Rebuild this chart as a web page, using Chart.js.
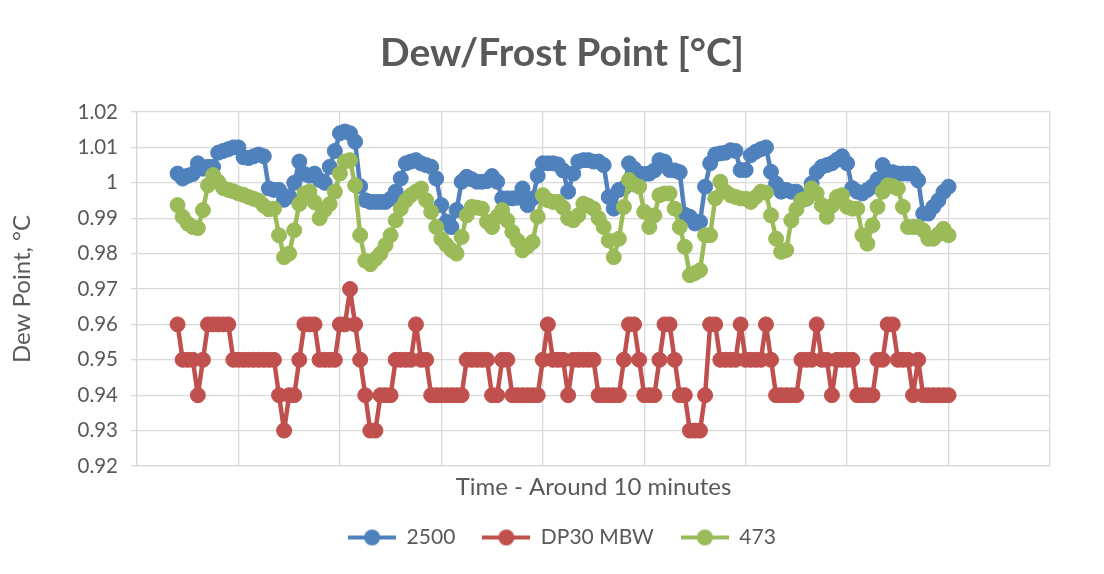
<!DOCTYPE html>
<html><head><meta charset="utf-8">
<script src="https://cdn.jsdelivr.net/npm/chart.js@4.4.1/dist/chart.umd.min.js"></script>
<style>html,body{margin:0;padding:0;background:#fff}#wrap{width:1104px;height:574px}</style>
</head><body><div id="wrap"><canvas id="c" width="1104" height="574"></canvas></div>
<script>
const chartTitle = 'Dew/Frost Point [°C]';
const xTitle = 'Time - Around 10 minutes';
const yTitle = 'Dew Point, °C';
const seriesNames = ['2500', 'DP30 MBW', '473'];
const seriesColors = ['#4F81BD', '#C0504D', '#9BBB59'];
const firstSample = 8;      // category index of first reading
const totalCategories = 180;
const categoryStep = 20;
const yMin = 0.92, yMax = 1.02, yStep = 0.01;

const s2500 = [
 1.0026,1.0012,1.002,1.0025,1.0055,1.004,1.0045,1.0045,1.0085,1.009,
 1.0095,1.010,1.010,1.0072,1.007,1.0075,1.008,1.0075,0.9984,0.998,
 0.998,0.9952,0.9962,1.0,1.006,1.0025,1.002,1.0026,1.0008,1.0,
 1.0045,1.009,1.014,1.0145,1.014,1.0116,0.999,0.9951,0.9946,0.9946,
 0.9946,0.9946,0.9955,0.9975,1.0012,1.0055,1.006,1.0064,1.0055,1.005,
 1.0045,1.0012,0.9937,0.989,0.9875,0.9923,1.0003,1.0017,1.001,1.0003,
 1.0003,1.0005,1.0019,1.0003,0.9956,0.9956,0.9956,0.9958,0.9984,0.9937,
 0.9956,1.002,1.0055,1.0055,1.0055,1.0052,1.0035,0.9975,1.0026,1.006,
 1.0064,1.0064,1.006,1.006,1.005,0.996,0.9927,0.998,0.9985,1.0055,
 1.004,1.0026,1.0025,1.0026,1.0035,1.0064,1.006,1.0036,1.0035,1.003,
 0.991,0.9904,0.9885,0.989,0.9989,1.0055,1.008,1.0083,1.0085,1.0092,
 1.009,1.0036,1.0036,1.0078,1.0088,1.0095,1.010,1.0031,0.9998,0.9975,
 0.998,0.9975,0.9975,0.9951,0.9955,0.9998,1.003,1.0045,1.005,1.0055,
 1.0065,1.0075,1.0055,0.9985,0.9975,0.997,0.998,0.999,1.001,1.005,
 1.003,1.003,1.0026,1.0026,1.0026,1.0026,1.0007,0.9913,0.9913,0.9932,
 0.995,0.9974,0.9989
];
const sDP30 = [
 0.96,0.95,0.95,0.95,0.94,0.95,0.96,0.96,0.96,0.96,
 0.96,0.95,0.95,0.95,0.95,0.95,0.95,0.95,0.95,0.95,
 0.94,0.93,0.94,0.94,0.95,0.96,0.96,0.96,0.95,0.95,
 0.95,0.95,0.96,0.96,0.97,0.96,0.95,0.94,0.93,0.93,
 0.94,0.94,0.94,0.95,0.95,0.95,0.95,0.96,0.95,0.95,
 0.94,0.94,0.94,0.94,0.94,0.94,0.94,0.95,0.95,0.95,
 0.95,0.95,0.94,0.94,0.95,0.95,0.94,0.94,0.94,0.94,
 0.94,0.94,0.95,0.96,0.95,0.95,0.95,0.94,0.95,0.95,
 0.95,0.95,0.95,0.94,0.94,0.94,0.94,0.94,0.95,0.96,
 0.96,0.95,0.94,0.94,0.94,0.95,0.96,0.96,0.95,0.94,
 0.94,0.93,0.93,0.93,0.94,0.96,0.96,0.95,0.95,0.95,
 0.95,0.96,0.95,0.95,0.95,0.95,0.96,0.95,0.94,0.94,
 0.94,0.94,0.94,0.95,0.95,0.95,0.96,0.95,0.95,0.94,
 0.95,0.95,0.95,0.95,0.94,0.94,0.94,0.94,0.95,0.95,
 0.96,0.96,0.95,0.95,0.95,0.94,0.95,0.94,0.94,0.94,
 0.94,0.94,0.94
];
const s473 = [
 0.9937,0.9904,0.9885,0.9875,0.9872,0.9923,0.9993,1.0022,1.0003,0.9985,
 0.998,0.9976,0.997,0.9966,0.996,0.9955,0.995,0.9935,0.9925,0.9927,
 0.9852,0.979,0.980,0.9866,0.994,0.997,0.9975,0.9945,0.990,0.9923,
 0.994,0.9975,1.0026,1.006,1.0064,0.9993,0.9852,0.978,0.977,0.9785,
 0.980,0.9824,0.9852,0.9894,0.9927,0.995,0.9965,0.9975,0.9984,0.9951,
 0.9918,0.9875,0.9842,0.9825,0.981,0.980,0.9847,0.9908,0.9932,0.993,
 0.9927,0.989,0.9875,0.9904,0.9923,0.9894,0.9861,0.9837,0.9809,0.982,
 0.9833,0.9904,0.9965,0.9951,0.9946,0.9946,0.993,0.990,0.9894,0.9908,
 0.9941,0.9935,0.9927,0.990,0.9875,0.9837,0.979,0.9842,0.9932,1.0008,
 0.9995,0.9989,0.9918,0.9875,0.9908,0.9965,0.997,0.997,0.9927,0.9875,
 0.9819,0.9739,0.9745,0.9753,0.9852,0.9852,0.9956,1.0003,0.9975,0.9965,
 0.996,0.9956,0.9955,0.9946,0.996,0.9975,0.9972,0.9908,0.9842,0.9805,
 0.981,0.9894,0.9925,0.9951,0.9956,0.9984,0.997,0.9937,0.9904,0.9935,
 0.996,0.9965,0.9932,0.9927,0.9927,0.9852,0.9828,0.988,0.9932,0.9975,
 0.9993,0.999,0.9984,0.9932,0.9875,0.9875,0.9875,0.9866,0.9842,0.9842,
 0.9855,0.987,0.9852
];
const seriesValues = [s2500, sDP30, s473];

const FONT = "Lato, 'Open Sans', 'DejaVu Sans', sans-serif";
const TXT = '#595959';
const GRID = '#D9D9D9';

function legendIcon(color) {
  const c = document.createElement('canvas');
  c.width = 48; c.height = 18;
  const g = c.getContext('2d');
  g.strokeStyle = color; g.lineWidth = 4;
  g.beginPath(); g.moveTo(0, 9); g.lineTo(48, 9); g.stroke();
  g.fillStyle = color;
  g.beginPath(); g.arc(24, 9, 8, 0, Math.PI * 2); g.fill();
  return c;
}
const icons = seriesColors.map(legendIcon);

const datasets = seriesValues.map((vals, k) => ({
  label: seriesNames[k],
  data: vals.map((v, i) => ({ x: firstSample + i, y: v })),
  borderColor: seriesColors[k],
  backgroundColor: seriesColors[k],
  pointBackgroundColor: seriesColors[k],
  pointBorderColor: seriesColors[k],
  borderWidth: 4.5,
  borderJoinStyle: 'round',
  borderCapStyle: 'round',
  pointRadius: 7.5,
  pointBorderWidth: 1,
  tension: 0,
  order: seriesValues.length - k
}));

new Chart(document.getElementById('c'), {
  type: 'line',
  data: { datasets },
  options: {
    responsive: false,
    animation: false,
    devicePixelRatio: 1,
    layout: { padding: { left: 20, right: 0, top: 0, bottom: 16 } },
    plugins: {
      title: {
        display: true, text: chartTitle, color: TXT,
        font: { family: FONT, size: 39, weight: 'bold' },
        padding: { top: 30, bottom: 35.2 }
      },
      legend: {
        position: 'bottom',
        labels: {
          color: TXT, font: { family: FONT, size: 21 },
          usePointStyle: true, pointStyleWidth: 48, padding: 27,
          sort: (a, b) => a.datasetIndex - b.datasetIndex,
          generateLabels: (chart) => Chart.defaults.plugins.legend.labels.generateLabels(chart)
            .map(l => Object.assign(l, { pointStyle: icons[l.datasetIndex], fontColor: TXT }))
        }
      },
      tooltip: { enabled: false }
    },
    scales: {
      x: {
        type: 'linear', min: 0, max: totalCategories,
        ticks: { display: false, stepSize: categoryStep },
        grid: { color: GRID, lineWidth: 1.3, drawTicks: false },
        border: { color: GRID, width: 1.3 },
        title: { display: true, text: xTitle, color: TXT,
                 font: { family: FONT, size: 24 }, padding: { top: 0, bottom: -2 } },
        afterFit: s => { s.height = 34; }
      },
      y: {
        type: 'linear', min: yMin, max: yMax,
        ticks: { stepSize: yStep, color: TXT, font: { family: FONT, size: 20.5 }, padding: 13,
                 callback: v => String(Number(v.toFixed(2))) },
        grid: { color: GRID, lineWidth: 1.3, tickLength: 6 },
        border: { color: GRID, width: 1.3 },
        title: { display: true, text: yTitle, color: TXT,
                 font: { family: FONT, size: 24 }, padding: { top: -12.4, bottom: 0 } },
        afterFit: s => { s.width = 117; }
      },
      pad: {
        type: 'linear', position: 'right', display: true,
        ticks: { display: false }, grid: { display: false }, border: { display: false },
        afterFit: s => { s.width = 54; }
      }
    }
  }
});
</script></body></html>
